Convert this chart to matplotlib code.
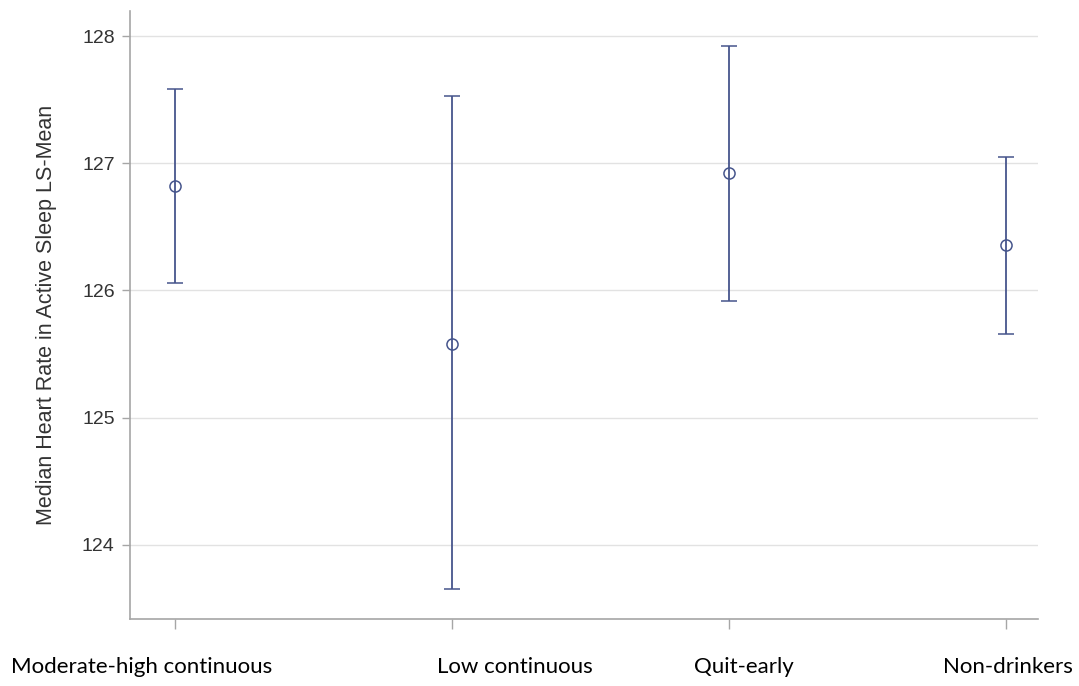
import matplotlib
matplotlib.use("Agg")
import matplotlib.pyplot as plt

# Data
groups = ["Moderate-high continuous", "Low continuous", "Quit-early", "Non-drinkers"]
ls_mean = [126.82, 125.58, 126.92, 126.36]
lower_ci = [126.06, 123.65, 125.92, 125.66]
upper_ci = [127.58, 127.53, 127.92, 127.05]
y_ticks = [124, 125, 126, 127, 128]

# layout: where each group label sits (label centres are shifted from ticks)
label_x = [-0.119, 1.227, 2.054, 3.007]

line_col = "#46558c"

fig = plt.figure(figsize=(10.79, 6.86), dpi=100)
ax = fig.add_axes([0.1205, 0.0977, 0.8415, 0.8863])

x = list(range(len(groups)))
err_lo = [m - lo for m, lo in zip(ls_mean, lower_ci)]
err_hi = [hi - m for m, hi in zip(ls_mean, upper_ci)]

ax.errorbar(x, ls_mean, yerr=[err_lo, err_hi], fmt="o", color=line_col,
            ecolor=line_col, elinewidth=1.3, capsize=6, capthick=1.3,
            markersize=8, markerfacecolor="none", markeredgewidth=1.1,
            zorder=3)

ax.set_xlim(-0.1625, 3.116)
ax.set_ylim(123.417, 128.197)
ax.set_yticks(y_ticks)
ax.set_yticklabels([str(t) for t in y_ticks], family="Liberation Sans",
                   fontsize=14, color="#333333")
ax.set_xticks(x)
ax.set_xticklabels([])

ax.grid(axis="y", color="#e2e2e2", linewidth=1.0, zorder=0)
ax.set_axisbelow(True)

for side in ["top", "right"]:
    ax.spines[side].set_visible(False)
for side in ["left", "bottom"]:
    ax.spines[side].set_color("#a6a6a6")
    ax.spines[side].set_linewidth(1.2)

ax.tick_params(axis="y", length=6, width=1, color="#a6a6a6", pad=5)
ax.tick_params(axis="x", length=7, width=1, color="#a6a6a6")

ax.set_ylabel("Median Heart Rate in Active Sleep LS-Mean",
              family="Liberation Sans", fontsize=15.5, color="#333333",
              labelpad=18)

for lx, name in zip(label_x, groups):
    ax.text(lx, -0.0888, name, transform=ax.get_xaxis_transform(),
            ha="center", va="baseline", family="Lato", fontsize=16,
            color="black")

fig.savefig("out.png", dpi=100)
